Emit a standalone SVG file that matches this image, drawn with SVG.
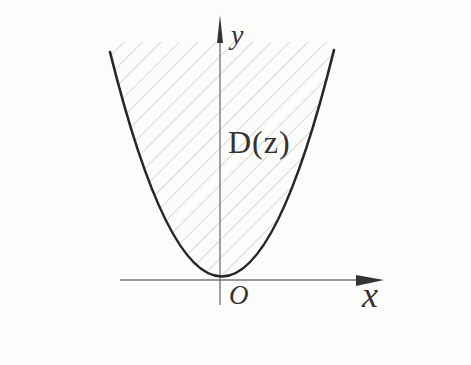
<svg xmlns="http://www.w3.org/2000/svg" width="471" height="365" viewBox="0 0 471 365">
<style>
.axis{stroke:#8a8a8a;stroke-width:1.6;fill:none}
.curve{stroke:#262626;stroke-width:2.6;fill:none;stroke-linecap:round}
.lbl{font-family:"Liberation Serif",serif;fill:#333}
.hatch{stroke:#b4b4b4;stroke-width:1}
</style>
<defs>
<pattern id="h" patternUnits="userSpaceOnUse" width="13" height="13" patternTransform="rotate(45)">
<line class="hatch" x1="0" y1="0" x2="0" y2="13"/>
</pattern>
<clipPath id="c"><path d="M110,42 L110,52 Q222,502 334,50 L334,42 Z"/></clipPath>
</defs>
<rect width="471" height="365" fill="#fcfcfa"/>
<g id="hatching"><rect x="100" y="40" width="240" height="245" fill="url(#h)" clip-path="url(#c)"/></g>
<g id="connectors">
<line class="axis" x1="220" y1="40" x2="220" y2="305"/>
<polygon points="220,15 217,43 223,43" fill="#333"/>
<line class="axis" x1="120" y1="280" x2="360" y2="280" style="stroke:#777"/>
<polygon points="384,280 356,275 356,286" fill="#333"/>
</g>
<g id="parabola"><path class="curve" d="M110,52 Q222,502 334,50"/></g>
<g id="labels">
<text class="lbl" x="231" y="44" font-size="28" font-style="italic">y</text>
<text class="lbl" x="228" y="153" font-size="32" letter-spacing="1">D(z)</text>
<text class="lbl" x="229" y="304" font-size="27" font-style="italic">O</text>
<text class="lbl" x="362" y="307" font-size="36" font-style="italic">x</text>
</g>
</svg>
